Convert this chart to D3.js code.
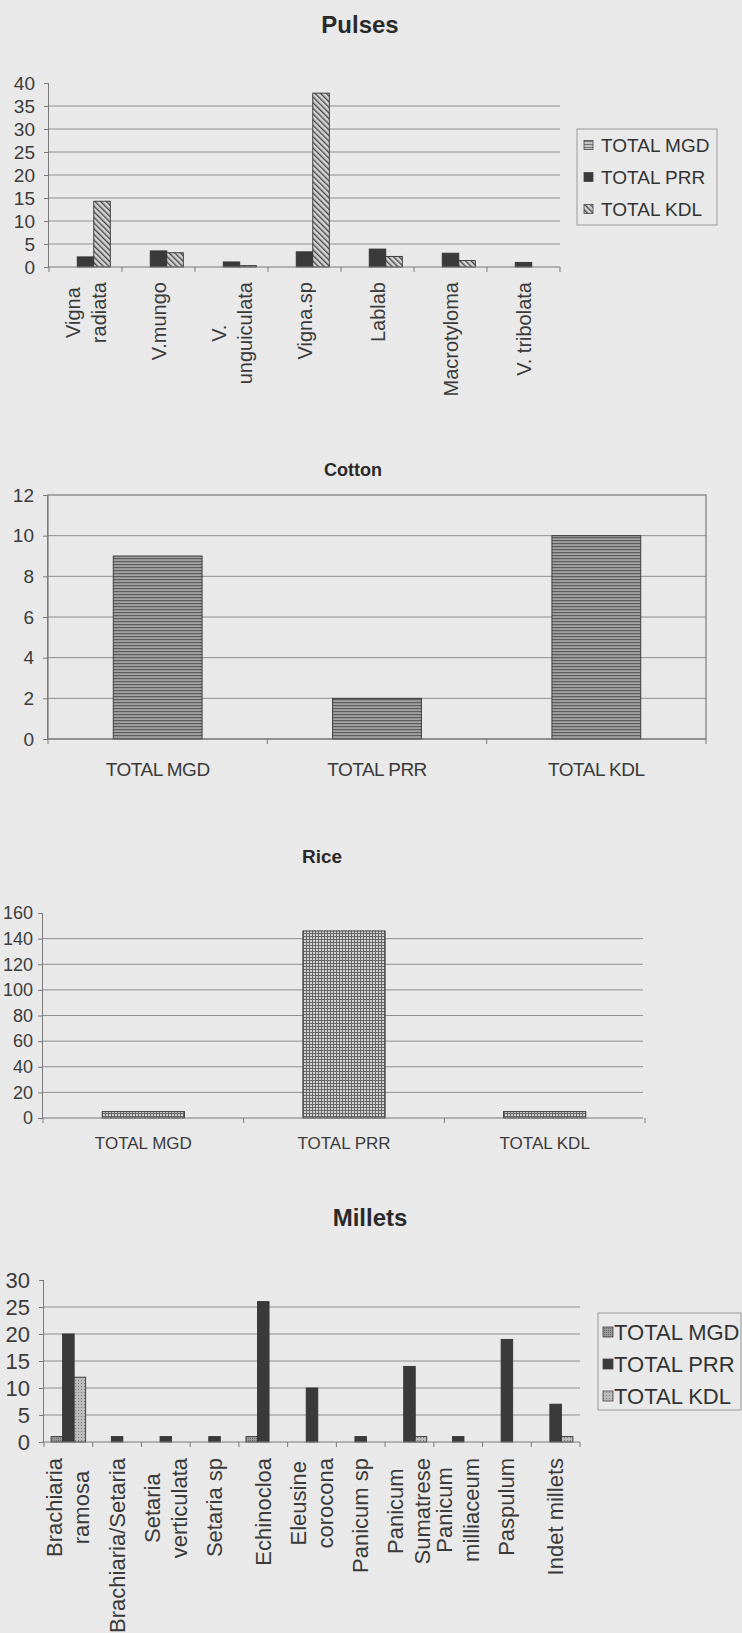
<!DOCTYPE html>
<html>
<head>
<meta charset="utf-8">
<script src="https://cdn.jsdelivr.net/npm/d3@7"></script>
<style>
  body { margin: 0; background: #e9e9e9; }
  svg { display: block; }
</style>
</head>
<body>
<svg id="page" width="742" height="1633"></svg>
<script>
// ---- data ----
const seriesNames = ["TOTAL MGD", "TOTAL PRR", "TOTAL KDL"];

const pulseCats = ["Vigna\nradiata", "V.mungo", "V.\nunguiculata", "Vigna.sp", "Lablab", "Macrotyloma", "V. tribolata"];
const pulseMGD = [0, 0, 0, 0, 0, 0, 0];
const pulsePRR = [2.2, 3.5, 1.1, 3.3, 3.9, 3, 1];
const pulseKDL = [14.3, 3.1, 0.3, 37.8, 2.3, 1.4, 0];
const pulseTicks = [0, 5, 10, 15, 20, 25, 30, 35, 40];

const cropCats = ["TOTAL MGD", "TOTAL PRR", "TOTAL KDL"];
const cottonVals = [9, 2, 10];
const cottonTicks = [0, 2, 4, 6, 8, 10, 12];
const riceVals = [5, 146, 5];
const riceTicks = [0, 20, 40, 60, 80, 100, 120, 140, 160];

const milletCats = ["Brachiaria\nramosa", "Brachiaria/Setaria", "Setaria\nverticulata", "Setaria sp", "Echinocloa",
  "Eleusine\ncorocona", "Panicum sp", "Panicum\nSumatrese", "Panicum\nmilliaceum", "Paspulum", "Indet millets"];
const milletMGD = [1, 0, 0, 0, 1, 0, 0, 0, 0, 0, 0];
const milletPRR = [20, 1, 1, 1, 26, 10, 1, 14, 1, 19, 7];
const milletKDL = [12, 0, 0, 0, 0, 0, 0, 1, 0, 0, 1];
const milletTicks = [0, 5, 10, 15, 20, 25, 30];

const svg = d3.select("#page");
const SANS = "'Liberation Sans', Arial, sans-serif";

// ---- fill patterns (scan look) ----
const defs = svg.append("defs");
function pattern(id, w, h, bg, draw, rot) {
    const p = defs.append("pattern").attr("id", id).attr("patternUnits", "userSpaceOnUse")
        .attr("width", w).attr("height", h);
    if (rot) p.attr("patternTransform", `rotate(${rot})`);
    p.append("rect").attr("width", w).attr("height", h).attr("fill", bg);
    draw(p);
}
pattern("hatch", 4, 4, "#d4d4d4", p => p.append("rect").attr("width", 1.4).attr("height", 4).attr("fill", "#4a4a4a"), -45);
pattern("hlinesLight", 3, 3, "#c4c4c4", p => p.append("rect").attr("width", 3).attr("height", 1).attr("fill", "#777"));
pattern("hlines", 3, 3, "#a2a2a2", p => p.append("rect").attr("width", 3).attr("height", 1.2).attr("fill", "#5c5c5c"));
pattern("grid", 3, 3, "#d2d2d2", p => {
    p.append("rect").attr("width", 3).attr("height", 1).attr("fill", "#666");
    p.append("rect").attr("width", 1).attr("height", 3).attr("fill", "#666");
});
pattern("dotsMid", 2, 2, "#9a9a9a", p => p.append("rect").attr("width", 1).attr("height", 1).attr("fill", "#6a6a6a"));
pattern("dotsLight", 3, 3, "#bcbcbc", p => p.append("rect").attr("width", 1).attr("height", 1).attr("fill", "#7a7a7a"));

// ---- generic bar chart ----
function drawChart(o) {
    const g = svg.append("g");
    const x = d3.scaleBand().domain(o.cats).range([o.left, o.right]);
    const y = d3.scaleLinear().domain([0, o.max]).range([o.base, o.top]);
    const bw = x.bandwidth();
    const sub = d3.scaleBand().domain(o.series.map(s => s.name))
        .range([bw * (1 - o.frac) / 2, bw * (1 + o.frac) / 2]);

    // gridlines
    g.selectAll("line.grid").data(o.grid).join("line")
        .attr("class", "grid")
        .attr("x1", o.left).attr("x2", o.gridRight || o.right)
        .attr("y1", d => y(d)).attr("y2", d => y(d))
        .attr("stroke", "#8e8e8e").attr("stroke-width", 1);

    if (o.border) {
        g.append("rect").attr("x", o.left).attr("y", o.top)
            .attr("width", o.right - o.left).attr("height", o.base - o.top)
            .attr("fill", "none").attr("stroke", "#7a7a7a").attr("stroke-width", 1.2);
    }

    // bars
    o.series.forEach(s => {
        const rows = o.cats.map((c, i) => ({ c: c, v: s.values[i] })).filter(d => d.v > 0);
        g.selectAll(null).data(rows).join("rect")
            .attr("x", d => x(d.c) + sub(s.name))
            .attr("y", d => y(d.v))
            .attr("width", sub.bandwidth())
            .attr("height", d => y(0) - y(d.v))
            .attr("fill", s.fill)
            .attr("stroke", "#333").attr("stroke-width", 0.9);
    });

    // y axis
    const ya = g.append("g").attr("transform", `translate(${o.left},0)`)
        .call(d3.axisLeft(y).tickValues(o.ticks).tickSize(5).tickPadding(o.tickPad).tickFormat(d3.format("d")));
    ya.select(".domain").attr("stroke", "#7a7a7a").attr("d", `M-0.5,${y(0)}V${y(o.max)}`);
    ya.selectAll(".tick line").attr("stroke", "#7a7a7a");
    ya.selectAll(".tick text").attr("fill", "#3c3c3c")
        .style("font-family", SANS).style("font-size", o.tickSize + "px");

    // x axis line and category boundary ticks
    g.append("line").attr("x1", o.left).attr("x2", o.gridRight || o.right)
        .attr("y1", y(0)).attr("y2", y(0)).attr("stroke", "#7a7a7a").attr("stroke-width", 1.2);
    const bounds = o.cats.map(c => x(c)).concat([o.right]);
    g.selectAll("line.xt").data(bounds).join("line").attr("class", "xt")
        .attr("x1", d => d).attr("x2", d => d)
        .attr("y1", y(0)).attr("y2", y(0) + 5).attr("stroke", "#7a7a7a");

    // category labels
    o.cats.forEach(c => {
        const cx = x(c) + bw / 2;
        const lines = c.split("\n");
        if (o.rotate) {
            const lg = g.append("g").attr("transform", `translate(${cx},${o.labelY}) rotate(-90)`);
            const texts = lines.map((t, i) => lg.append("text")
                .attr("y", (i - (lines.length - 1) / 2) * o.lineH)
                .attr("dominant-baseline", "central")
                .attr("text-anchor", "middle")
                .attr("fill", "#3a3a3a")
                .style("font-family", SANS).style("font-size", o.labelSize + "px")
                .text(t));
            const longest = d3.max(texts, t => t.node().getComputedTextLength());
            texts.forEach(t => t.attr("x", -longest / 2));
        } else {
            g.append("text").attr("x", cx).attr("y", o.labelY)
                .attr("text-anchor", "middle").attr("dominant-baseline", "central")
                .attr("fill", "#3a3a3a")
                .style("font-family", SANS).style("font-size", o.labelSize + "px")
                .style("letter-spacing", o.labelSpacing || 0)
                .text(c);
        }
    });

    // title
    g.append("text").attr("x", o.titleX).attr("y", o.titleY)
        .attr("text-anchor", "middle").attr("dominant-baseline", "central")
        .attr("fill", "#2a2a2a").style("font-weight", "bold")
        .style("font-family", SANS).style("font-size", o.titleSize + "px")
        .text(o.title);

    // legend
    if (o.legend) {
        const L = o.legend;
        g.append("rect").attr("x", L.x).attr("y", L.y).attr("width", L.w).attr("height", L.h)
            .attr("fill", "none").attr("stroke", "#9a9a9a");
        o.series.forEach((s, i) => {
            const cy = L.first + i * L.step;
            g.append("rect").attr("x", L.x + L.sx).attr("y", cy - L.sw / 2)
                .attr("width", L.sw).attr("height", L.sw)
                .attr("fill", s.legendFill || s.fill).attr("stroke", "#444").attr("stroke-width", 0.8);
            g.append("text").attr("x", L.x + L.tx).attr("y", cy)
                .attr("dominant-baseline", "central").attr("fill", "#333")
                .style("font-family", SANS).style("font-size", L.size + "px")
                .text(s.name);
        });
    }
}

// Pulses
drawChart({
    title: "Pulses", titleX: 360, titleY: 24, titleSize: 24,
    cats: pulseCats, left: 49, right: 560, top: 83, base: 267, max: 40,
    ticks: pulseTicks, grid: [5, 10, 15, 20, 25, 30, 35], tickSize: 19, tickPad: 9,
    frac: 0.68, rotate: true, labelY: 282, lineH: 26, labelSize: 20,
    series: [
        { name: seriesNames[0], values: pulseMGD, fill: "url(#hlinesLight)" },
        { name: seriesNames[1], values: pulsePRR, fill: "#3a3a3a" },
        { name: seriesNames[2], values: pulseKDL, fill: "url(#hatch)" }
    ],
    legend: { x: 577, y: 129, w: 140, h: 96, first: 145, step: 32, sx: 7, sw: 9, tx: 24, size: 19 }
});

// Cotton
drawChart({
    title: "Cotton", titleX: 353, titleY: 470, titleSize: 18,
    cats: cropCats, left: 48, right: 706, top: 495, base: 739, max: 12,
    ticks: cottonTicks, grid: [2, 4, 6, 8, 10], tickSize: 19, tickPad: 9,
    frac: 0.405, border: true, labelY: 769, labelSize: 19, labelSpacing: "-0.5px",
    series: [{ name: "Cotton", values: cottonVals, fill: "url(#hlines)" }]
});

// Rice
drawChart({
    title: "Rice", titleX: 322, titleY: 856, titleSize: 19,
    cats: cropCats, left: 43, right: 645, gridRight: 643, top: 913, base: 1118, max: 160,
    ticks: riceTicks, grid: [20, 40, 60, 80, 100, 120, 140], tickSize: 18, tickPad: 5,
    frac: 0.41, labelY: 1143, labelSize: 17,
    series: [{ name: "Rice", values: riceVals, fill: "url(#grid)" }]
});

// Millets
drawChart({
    title: "Millets", titleX: 370, titleY: 1217, titleSize: 24,
    cats: milletCats, left: 44, right: 580, top: 1280, base: 1442, max: 30,
    ticks: milletTicks, grid: [5, 10, 15, 20, 25], tickSize: 22, tickPad: 9,
    frac: 0.71, rotate: true, labelY: 1458, lineH: 27, labelSize: 22,
    series: [
        { name: seriesNames[0], values: milletMGD, fill: "url(#dotsMid)" },
        { name: seriesNames[1], values: milletPRR, fill: "#3a3a3a" },
        { name: seriesNames[2], values: milletKDL, fill: "url(#dotsLight)" }
    ],
    legend: { x: 598, y: 1313, w: 143, h: 97, first: 1332, step: 32, sx: 5, sw: 10, tx: 16, size: 22 }
});
</script>
</body>
</html>
